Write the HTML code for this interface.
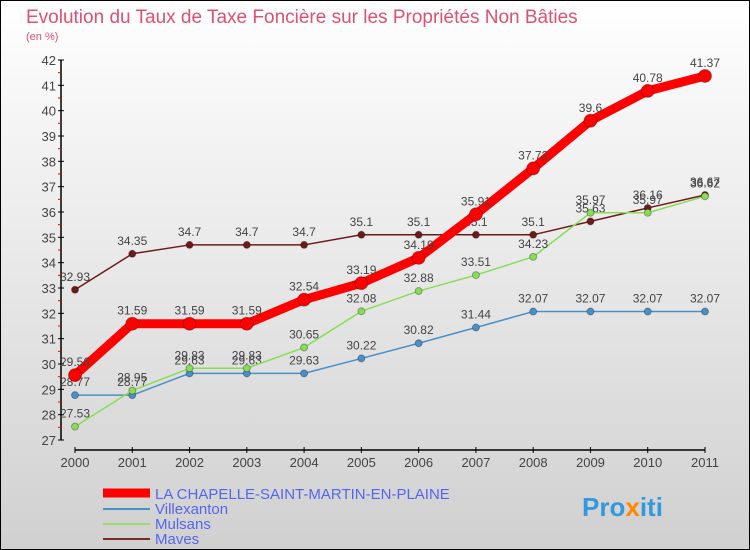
<!DOCTYPE html>
<html><head><meta charset="utf-8"><style>
body{margin:0;width:750px;height:550px;overflow:hidden;font-family:"Liberation Sans",sans-serif}
svg{display:block}
</style></head><body>
<svg id="c" width="750" height="550" xmlns="http://www.w3.org/2000/svg">
<defs><linearGradient id="bg" x1="0" y1="0" x2="0" y2="1"><stop offset="0" stop-color="#ffffff"/><stop offset="1" stop-color="#d0d0d0"/></linearGradient></defs>
<rect x="0.5" y="0.5" width="749" height="549" fill="url(#bg)" stroke="#000"/>
<text x="26" y="23" font-size="19" fill="#e05070">Evolution du Taux de Taxe Foncière sur les Propriétés Non Bâties</text>
<text x="26" y="40" font-size="11" fill="#e05070">(en %)</text>
<g id="axes"></g><g id="series"></g>
<g>
<line x1="103" y1="493" x2="150" y2="493" stroke="#ff0000" stroke-width="9"/>
<text x="155" y="499" font-size="15" fill="#5566ee">LA CHAPELLE-SAINT-MARTIN-EN-PLAINE</text>
<line x1="103" y1="509" x2="150" y2="509" stroke="#4a90c8" stroke-width="2"/>
<text x="155" y="514" font-size="15" fill="#5566ee">Villexanton</text>
<line x1="103" y1="524" x2="150" y2="524" stroke="#99dd77" stroke-width="2"/>
<text x="155" y="529" font-size="15" fill="#5566ee">Mulsans</text>
<line x1="103" y1="539" x2="150" y2="539" stroke="#7a2a2a" stroke-width="2"/>
<text x="155" y="544" font-size="15" fill="#5566ee">Maves</text>
</g>
<text x="582" y="516" font-size="26" font-weight="bold" fill="#3399dd">Pro<tspan fill="#ff8800">x</tspan>iti</text>
</svg>
<script>
const years=["2000","2001","2002","2003","2004","2005","2006","2007","2008","2009","2010","2011"];
const yTicks=[27,28,29,30,31,32,33,34,35,36,37,38,39,40,41,42];
const chapelle=[29.56,31.59,31.59,31.59,32.54,33.19,34.19,35.91,37.72,39.6,40.78,41.37];
const villexanton=[28.77,28.77,29.63,29.63,29.63,30.22,30.82,31.44,32.07,32.07,32.07,32.07];
const mulsans=[27.53,28.95,29.83,29.83,30.65,32.08,32.88,33.51,34.23,35.97,35.97,36.62];
const maves=[32.93,34.35,34.7,34.7,34.7,35.1,35.1,35.1,35.1,35.63,36.16,36.67];
const NS="http://www.w3.org/2000/svg";
const X=i=>75+i*(630/11);
const Y=v=>440-(v-27)*(380/15);
function mk(t,a,p){const e=document.createElementNS(NS,t);for(const k in a)e.setAttribute(k,a[k]);p.appendChild(e);return e;}
const ax=document.getElementById('axes');
let e=mk('line',{x1:61,y1:Y(42),x2:61,y2:Y(27),stroke:'#000','stroke-width':1.5},ax);


e=mk('line',{x1:75,y1:450,x2:705,y2:450,stroke:'#000','stroke-width':1.5},ax);


yTicks.forEach((v,i)=>{
 mk('line',{x1:58,y1:Y(v),x2:64,y2:Y(v),stroke:'#000'},ax);
 if(i<yTicks.length-1)mk('line',{x1:58,y1:Y(v+0.5),x2:61,y2:Y(v+0.5),stroke:'#e00'},ax);
 const t=mk('text',{x:56,y:Y(v)+5,'font-size':13,'text-anchor':'end',fill:'#444'},ax);
 t.textContent=v;
 
 
});
years.forEach((y,i)=>{
 mk('line',{x1:X(i),y1:447,x2:X(i),y2:453,stroke:'#000'},ax);
 const t=mk('text',{x:X(i),y:467,'font-size':13,'text-anchor':'middle',fill:'#444'},ax);
 t.textContent=y;
 
 
});
const sg=document.getElementById('series');
function series(name,d,col,w,r){
 const g=mk('g',{},sg);
 
 
 mk('polyline',{points:d.map((v,i)=>X(i)+','+Y(v)).join(' '),fill:'none',stroke:col,'stroke-width':w,'stroke-linejoin':'round'},g);
 d.forEach((v,i)=>{
  const c=mk('circle',{cx:X(i),cy:Y(v),r:r,fill:col,stroke:'rgba(0,0,0,0.3)'},g);
  
  
  const t=mk('text',{x:X(i),y:Y(v)-9,'font-size':12,'text-anchor':'middle',fill:'#444'},g);
  t.textContent=String(v);
  
  
 });
}
series('maves',maves,'#6e1a1a',1.5,3.5);
series('villexanton',villexanton,'#4a90c8',1.5,3.5);
series('mulsans',mulsans,'#88dd55',1.5,3.5);
series('chapelle',chapelle,'#ff0000',9,6.5);
</script>
</body></html>
